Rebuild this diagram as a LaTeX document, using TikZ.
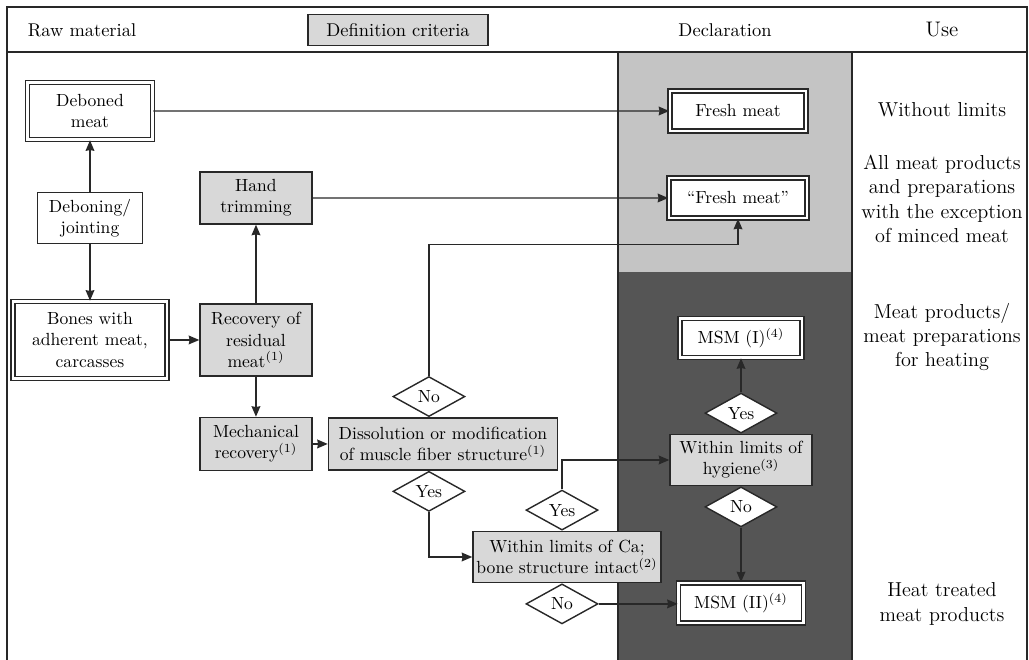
\documentclass[tikz,border=0pt]{standalone}
\usetikzlibrary{shapes.geometric, arrows.meta}
\definecolor{boxgray}{RGB}{216,216,216}
\definecolor{lightcol}{RGB}{196,196,196}
\definecolor{darkcol}{RGB}{85,85,85}
\definecolor{linegray}{RGB}{40,40,40}
\begin{document}
\begin{tikzpicture}[x=0.02cm, y=0.02cm, font=\fontsize{10}{12}\selectfont,
    procbox/.style={draw=linegray, line width=0.8pt, fill=boxgray, align=center, inner sep=2pt},
    startbox/.style={procbox, fill=white},
    declbox/.style={draw=linegray, line width=0.9pt, double=white, double distance=1.3pt, fill=white, align=center, inner sep=2pt},
    choice/.style={diamond, draw=linegray, line width=0.8pt, fill=white, inner sep=0pt, minimum width=1.44cm, minimum height=0.8cm},
    usetext/.style={align=center, font=\fontsize{11.5}{13.8}\selectfont},
    flow/.style={-{Stealth[length=6pt, width=5pt, inset=0.5pt]}, draw=linegray, line width=0.8pt}]
    \useasboundingbox (0,0) rectangle (1029,660);

    % columns
    \fill[lightcol] (618,388) rectangle (852,608);
    \fill[darkcol] (618,0) rectangle (852,388);
    \draw[linegray, line width=0.8pt] (618,0) -- (618,608) (852,0) -- (852,608);
    \draw[linegray, line width=0.8pt] (7,0) -- (7,653) -- (1027,653) -- (1027,0);
    \draw[linegray, line width=0.8pt] (7,608) -- (1027,608);

    % header
    \node (hraw) at (82,630) {\fontsize{10.5}{12}\selectfont Raw material};
    \node[procbox, minimum width=3.6cm, minimum height=0.62cm] (hcrit) at (398,630) {\fontsize{10.5}{12}\selectfont Definition criteria};
    \node (hdecl) at (725,630) {\fontsize{10.5}{12}\selectfont Declaration};
    \node (huse) at (942,630) {\fontsize{12}{14}\selectfont Use};

    % raw material
    \node[startbox, minimum width=2.1cm, minimum height=1.02cm] (deboning) at (90,442) {Deboning/\\jointing};
    \node[declbox, minimum width=2.5cm, minimum height=1.14cm, above of=deboning, node distance=2.14cm] (deboned) {Deboned\\meat};
    \node[declbox, minimum width=3.08cm, minimum height=1.54cm, below of=deboning, node distance=2.44cm] (bones) {Bones with\\adherent meat,\\carcasses};

    % criteria
    \node[procbox, minimum width=2.24cm, minimum height=1.44cm, right of=bones, node distance=3.32cm] (recovery) {Recovery of\\residual\\meat\textsuperscript{(1)}};
    \node[procbox, minimum width=2.24cm, minimum height=1.04cm, above of=recovery, node distance=2.84cm] (trimming) {Hand\\trimming};
    \node[procbox, minimum width=2.24cm, minimum height=1.06cm, below of=recovery, node distance=2.08cm] (mechanical) {Mechanical\\recovery\textsuperscript{(1)}};
    \node[procbox, minimum width=4.58cm, minimum height=1.04cm, right of=mechanical, node distance=3.74cm] (dissolution) {Dissolution or modification\\of muscle fiber structure\textsuperscript{(1)}};
    \node[choice, anchor=south] (noFiber) at ([xshift=-0.28cm]dissolution.north) {No};
    \node[choice, anchor=north] (yesFiber) at ([xshift=-0.28cm]dissolution.south) {Yes};
    \node[procbox, minimum width=3.72cm, minimum height=1.02cm] (limitsCa) at (567,103) {Within limits of Ca;\\bone structure intact\textsuperscript{(2)}};
    \node[choice, anchor=south] (yesCa) at ([xshift=-0.1cm]limitsCa.north) {Yes};
    \node[choice, anchor=north] (noCa) at ([xshift=-0.1cm]limitsCa.south) {No};

    % declaration
    \node[declbox, minimum width=2.72cm, minimum height=0.8cm] (fresh) at (738,549) {Fresh meat};
    \node[declbox, minimum width=2.76cm, minimum height=0.8cm] (freshq) at (738,462) {``Fresh meat''};
    \node[procbox, minimum width=2.84cm, minimum height=1.02cm] (hygiene) at (741,200) {Within limits of\\hygiene\textsuperscript{(3)}};
    \node[choice, anchor=south] (yesHyg) at (hygiene.north) {Yes};
    \node[choice, anchor=north] (noHyg) at (hygiene.south) {No};
    \node[declbox, minimum width=2.44cm, minimum height=0.78cm] (msmI) at (741,322) {MSM (I)\textsuperscript{(4)}};
    \node[declbox, minimum width=2.5cm, minimum height=0.8cm] (msmII) at (741,57) {MSM (II)\textsuperscript{(4)}};

    % use
    \node[usetext] (u1) at (942,550) {Without limits};
    \node[usetext] (u2) at (942,461) {All meat products\\and preparations\\with the exception\\of minced meat};
    \node[usetext] (u3) at (942,323) {Meat products/\\meat preparations\\for heating};
    \node[usetext] (u4) at (942,56) {Heat treated\\meat products};

    \draw[flow] (deboning) -- (deboned);
    \draw[flow] (deboning) -- (bones);
    \draw[flow] (bones) -- (recovery);
    \draw[flow] (recovery) -- (trimming);
    \draw[flow] (recovery) -- (mechanical);
    \draw[flow] (mechanical) -- (dissolution);
    \draw[flow] (deboned) -- (fresh);
    \draw[flow] (trimming) -- (freshq);
    \draw[flow] (noFiber.north) |- ([yshift=-0.52cm]freshq.south) -- (freshq.south);
    \draw[flow] (yesFiber.south) |- (limitsCa.west);
    \draw[flow] (yesCa.north) |- (hygiene.west);
    \draw[flow] (noCa.east) -- (noCa.east -| msmII.west);
    \draw[flow] (yesHyg) -- (msmI);
    \draw[flow] (noHyg) -- (msmII);
\end{tikzpicture}
\end{document}
